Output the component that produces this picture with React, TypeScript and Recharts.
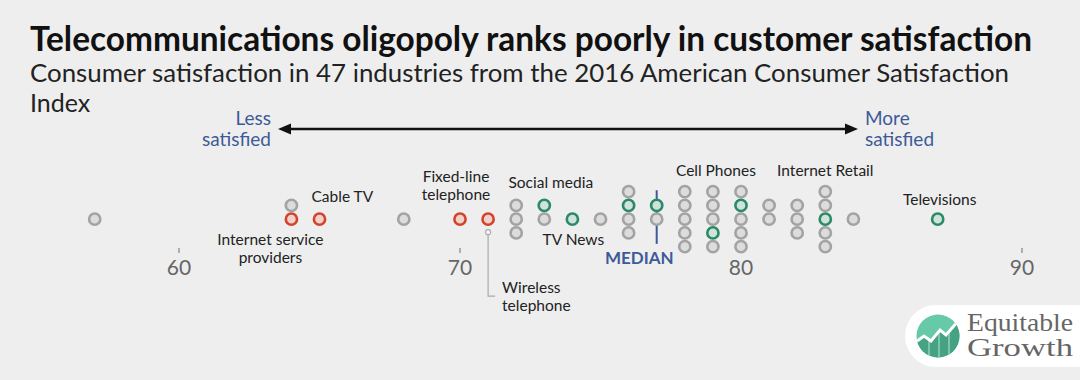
import { ScatterChart, Scatter, XAxis, YAxis, ReferenceLine, ReferenceDot } from 'recharts';

// ACSI 2016 industry scores; level = stacking row of the dot (0 = middle row)
const grayScores = [57, 64, 68, 72, 72, 72, 73, 75, 76, 76, 76, 77, 78, 78, 78, 78, 78, 79, 79, 79, 79, 80, 80, 80, 80, 81, 81, 82, 82, 82, 83, 83, 83, 83, 84];
const grayLevels = [0, 1, 0, 1, 0, -1, 0, 0, 2, 0, -1, 0, 2, 1, 0, -1, -2, 2, 1, 0, -2, 2, 0, -1, -2, 1, 0, 1, 0, -1, 2, 1, -1, -2, 0];

// telecom industries
const redScores = [64, 65, 70, 71];
const redLevels = [0, 0, 0, 0];

// other labelled industries
const greenScores = [73, 74, 76, 77, 79, 80, 83, 87];
const greenLevels = [1, 0, 1, 1, -1, 1, 0, 0];

const ticks = [60, 70, 80, 90];
const median = 77;

const toPoints = (scores: number[], levels: number[]) =>
  scores.map((s, i) => ({ score: s, level: levels[i] }));

const grayData = toPoints(grayScores, grayLevels);
const redData = toPoints(redScores, redLevels);
const greenData = toPoints(greenScores, greenLevels);

const FONT = 'Lato, "Open Sans", sans-serif';
const BLUE = '#3d5a98';

const makeDot = (stroke: string, fill: string) => (props: any) => {
  const { cx, cy } = props;
  return <circle cx={cx} cy={cy} r={5.6} fill={fill} stroke={stroke} strokeWidth={2.6} />;
};

// annotation anchored to a dot, offsets in px
const Anno = ({ vb, lines, dx, dy, anchor = 'middle', lineH = 17.5 }: any) => {
  if (!vb) return null;
  return (
    <text x={vb.x + dx} y={vb.y + dy} textAnchor={anchor} fontFamily={FONT} fontSize={15.5} fill="#222">
      {lines.map((l: string, i: number) => (
        <tspan key={i} x={vb.x + dx} dy={i === 0 ? 0 : lineH}>{l}</tspan>
      ))}
    </text>
  );
};

const Logo = () => (
  <g>
    <rect x={905} y={305} width={220} height={62} rx={31} fill="#ffffff" />
    <defs>
      <clipPath id="logoClip">
        <circle cx={938} cy={336} r={21.5} />
      </clipPath>
    </defs>
    <g clipPath="url(#logoClip)">
      <rect x={915} y={313} width={46} height={46} fill="#66c9a7" />
      <polygon points="915,343 924,336 931,341 940,330 946,335 958,321 962,321 962,360 915,360" fill="#45a283" />
      <line x1={929} y1={340} x2={929} y2={360} stroke="#a5dcc8" strokeWidth={1.2} />
      <line x1={939} y1={332} x2={939} y2={360} stroke="#a5dcc8" strokeWidth={1.2} />
      <line x1={949} y1={332} x2={949} y2={360} stroke="#a5dcc8" strokeWidth={1.2} />
      <polyline points="913,344 924,336 931,341 940,330 946,335 960,319" fill="none" stroke="#ffffff" strokeWidth={3} />
    </g>
    <text x={967} y={331} fontFamily='"Liberation Serif", serif' fontSize={25} fill="#666" textLength={106} lengthAdjust="spacingAndGlyphs">Equitable</text>
    <text x={967} y={356} fontFamily='"Liberation Serif", serif' fontSize={25} fill="#666" textLength={106} lengthAdjust="spacingAndGlyphs">Growth</text>
  </g>
);

export default function App() {
  return (
    <div style={{ position: 'relative', width: 1080, height: 380, background: '#eeeeee', overflow: 'hidden' }}>
      <style>{'body{margin:0}'}</style>
      <ScatterChart width={1080} height={380} margin={{ top: 190.25, right: 29.9, bottom: 102, left: 38.5 }}>
        <XAxis
          type="number"
          dataKey="score"
          domain={[55, 91]}
          ticks={ticks}
          axisLine={false}
          tickLine={{ stroke: '#999', strokeWidth: 1.5 }}
          tickSize={5}
          tickMargin={7}
          height={30}
          tick={{ fontSize: 21, fill: '#666', fontFamily: FONT }}
        />
        <YAxis type="number" dataKey="level" domain={[-2.1, 2.1]} hide />
        <ReferenceLine segment={[{ x: median, y: 2.1 }, { x: median, y: -1.8 }]} stroke={BLUE} strokeWidth={2} />
        <Scatter data={grayData} isAnimationActive={false} shape={makeDot('#a3a3a3', '#dcdcdc')} />
        <Scatter data={redData} isAnimationActive={false} shape={makeDot('#d2432b', '#f1d2cb')} />
        <Scatter data={greenData} isAnimationActive={false} shape={makeDot('#2a8a68', '#cfe3da')} />

        <ReferenceDot x={65} y={0} r={0} fill="none" stroke="none"
          label={{ content: (p: any) => <Anno vb={p.viewBox} lines={['Cable TV']} dx={-8} dy={-17} anchor="start" /> }} />
        <ReferenceDot x={64} y={0} r={0} fill="none" stroke="none"
          label={{ content: (p: any) => <Anno vb={p.viewBox} lines={['Internet service', 'providers']} dx={-21} dy={26} /> }} />
        <ReferenceDot x={70} y={0} r={0} fill="none" stroke="none"
          label={{ content: (p: any) => <Anno vb={p.viewBox} lines={['Fixed-line', 'telephone']} dx={-4} dy={-37} /> }} />
        <ReferenceDot x={71} y={0} r={0} fill="none" stroke="none"
          label={{
            content: (p: any) => {
              const vb = p.viewBox;
              if (!vb) return null;
              return (
                <g>
                  <circle cx={vb.x} cy={vb.y + 13} r={2.5} fill="#fff" stroke="#aaa" strokeWidth={1.2} />
                  <polyline points={`${vb.x},${vb.y + 15.5} ${vb.x},${vb.y + 77} ${vb.x + 7},${vb.y + 77}`} fill="none" stroke="#aaa" strokeWidth={1.2} />
                  <Anno vb={vb} lines={['Wireless', 'telephone']} dx={14} dy={74} anchor="start" />
                </g>
              );
            },
          }} />
        <ReferenceDot x={73} y={0} r={0} fill="none" stroke="none"
          label={{ content: (p: any) => <Anno vb={p.viewBox} lines={['Social media']} dx={6.5} dy={-31} /> }} />
        <ReferenceDot x={74} y={0} r={0} fill="none" stroke="none"
          label={{ content: (p: any) => <Anno vb={p.viewBox} lines={['TV News']} dx={1} dy={26} /> }} />
        <ReferenceDot x={79} y={0} r={0} fill="none" stroke="none"
          label={{ content: (p: any) => <Anno vb={p.viewBox} lines={['Cell Phones']} dx={3} dy={-43} /> }} />
        <ReferenceDot x={83} y={0} r={0} fill="none" stroke="none"
          label={{ content: (p: any) => <Anno vb={p.viewBox} lines={['Internet Retail']} dx={0} dy={-43} /> }} />
        <ReferenceDot x={87} y={0} r={0} fill="none" stroke="none"
          label={{ content: (p: any) => <Anno vb={p.viewBox} lines={['Televisions']} dx={2} dy={-14} /> }} />
        <ReferenceDot x={median} y={0} r={0} fill="none" stroke="none"
          label={{
            content: (p: any) =>
              p.viewBox ? (
                <text x={p.viewBox.x + 17} y={p.viewBox.y + 45} textAnchor="end" fontFamily={FONT} fontWeight={700} fontSize={17} fill={BLUE}>MEDIAN</text>
              ) : null,
          }} />
      </ScatterChart>

      <svg width={1080} height={380} style={{ position: 'absolute', left: 0, top: 0, pointerEvents: 'none' }}>
        <text x={30} y={51} fontFamily={FONT} fontWeight={700} fontSize={33.5} fill="#111" textLength={1002} lengthAdjust="spacingAndGlyphs">
          Telecommunications oligopoly ranks poorly in customer satisfaction
        </text>
        <text x={30} y={82} fontFamily={FONT} fontSize={25} fill="#222" textLength={979} lengthAdjust="spacingAndGlyphs">
          Consumer satisfaction in 47 industries from the 2016 American Consumer Satisfaction
        </text>
        <text x={30} y={112} fontFamily={FONT} fontSize={25} fill="#222">Index</text>

        <line x1={288} y1={129} x2={848} y2={129} stroke="#111" strokeWidth={2.5} />
        <polygon points="278,129 291,123.5 291,134.5" fill="#111" />
        <polygon points="858,129 845,123.5 845,134.5" fill="#111" />
        <text x={271} y={124.5} textAnchor="end" fontFamily={FONT} fontSize={19} fill={BLUE}>Less</text>
        <text x={271} y={146} textAnchor="end" fontFamily={FONT} fontSize={19} fill={BLUE}>satisfied</text>
        <text x={865} y={124.5} fontFamily={FONT} fontSize={19} fill={BLUE}>More</text>
        <text x={865} y={146} fontFamily={FONT} fontSize={19} fill={BLUE}>satisfied</text>

        <Logo />
      </svg>
    </div>
  );
}
